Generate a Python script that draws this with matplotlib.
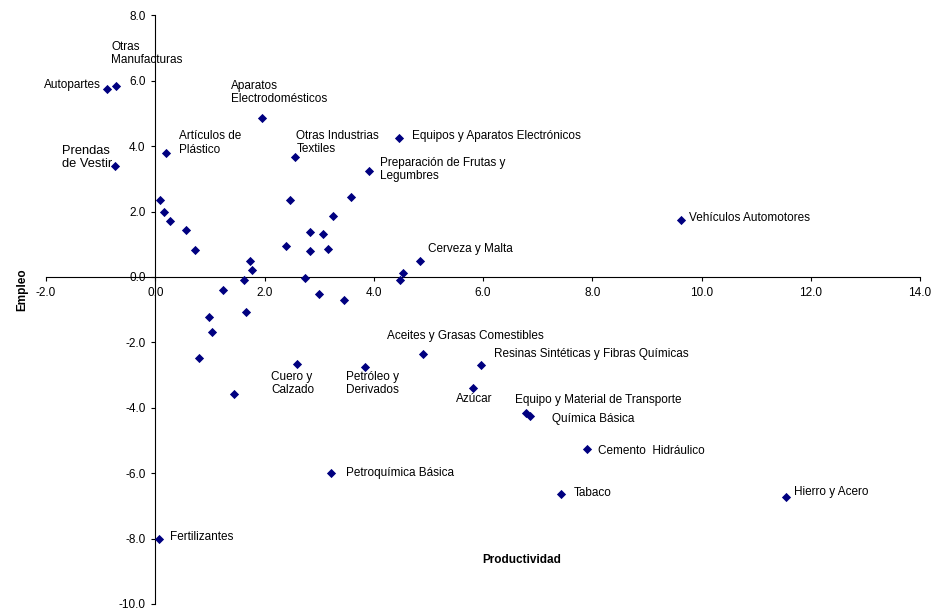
import matplotlib.pyplot as plt
from matplotlib.ticker import FormatStrFormatter

plt.rcParams['font.family'] = ['Liberation Sans', 'DejaVu Sans']

# labelled sectors
sectors = ["Autopartes", "Otras\nManufacturas", "Aparatos\nElectrodomésticos",
           "Artículos de\nPlástico", "Prendas\nde Vestir", "Otras Industrias\nTextiles",
           "Equipos y Aparatos Electrónicos", "Preparación de Frutas y\nLegumbres",
           "Vehículos Automotores", "Cerveza y Malta", "Aceites y Grasas Comestibles",
           "Resinas Sintéticas y Fibras Químicas", "Cuero y\nCalzado",
           "Petróleo y\nDerivados", "Azúcar", "Equipo y Material de Transporte",
           "Química Básica", "Cemento  Hidráulico", "Petroquímica Básica",
           "Tabaco", "Hierro y Acero", "Fertilizantes"]
prod_lab = [-0.875, -0.713, 1.957, 0.20, -0.73, 2.567, 4.46, 3.92, 9.63, 4.85, 4.90,
            5.97, 2.60, 3.84, 5.81, 6.79, 6.86, 7.90, 3.21, 7.43, 11.55, 0.06]
empl_lab = [5.75, 5.83, 4.85, 3.79, 3.38, 3.68, 4.25, 3.25, 1.74, 0.50, -2.37,
            -2.68, -2.65, -2.75, -3.41, -4.16, -4.25, -5.26, -6.00, -6.63, -6.73, -8.01]

# unlabelled sectors
prod_other = [0.09, 0.152, 0.268, 0.555, 0.73, 2.47, 2.835, 2.385, 2.84, 1.73, 1.78,
              2.74, 1.63, 1.24, 2.99, 1.665, 0.975, 1.037, 0.805, 1.44, 3.58, 3.25,
              3.07, 3.165, 4.54, 4.48, 3.457]
empl_other = [2.35, 1.98, 1.71, 1.44, 0.81, 2.36, 1.37, 0.96, 0.78, 0.50, 0.22,
              -0.04, -0.10, -0.39, -0.52, -1.06, -1.215, -1.68, -2.49, -3.58, 2.44, 1.86,
              1.32, 0.86, 0.12, -0.08, -0.70]

# label offsets in pixels (dx, dy, ha, va)
offsets = [(-7, 4, 'right', 'center'), (-5, 20, 'left', 'bottom'),
           (-31, 13, 'left', 'bottom'), (13, 10, 'left', 'center'),
           (-53, 9, 'left', 'center'), (1, 14, 'left', 'center'),
           (13, 2, 'left', 'center'), (11, 1, 'left', 'center'),
           (8, 2, 'left', 'center'), (8, 12, 'left', 'center'),
           (-36, 18, 'left', 'center'), (13, 11, 'left', 'center'),
           (-26, -20, 'left', 'center'), (-19, -17, 'left', 'center'),
           (-17, -11, 'left', 'center'), (-11, 13, 'left', 'center'),
           (22, -3, 'left', 'center'), (11, -2, 'left', 'center'),
           (15, 0, 'left', 'center'), (13, 1, 'left', 'center'),
           (8, 5, 'left', 'center'), (11, 2, 'left', 'center')]

fig = plt.figure(figsize=(9.32, 6.12), dpi=100)
ax = fig.add_axes([46/932, 1-604/612, (920-46)/932, (604-15.3)/612])

ax.scatter(prod_other, empl_other, marker='D', s=22, color='#000080', zorder=3, linewidths=0)
ax.scatter(prod_lab, empl_lab, marker='D', s=22, color='#000080', zorder=3, linewidths=0)

for name, x, y, (dx, dy, ha, va) in zip(sectors, prod_lab, empl_lab, offsets):
    fs = 9.3 if name.startswith("Prendas") else 8.5
    ax.annotate(name, (x, y), xytext=(dx, dy), textcoords='offset pixels',
                ha=ha, va=va, fontsize=fs, color='black', linespacing=1.12)

ax.set_xlim(-2, 14)
ax.set_ylim(-10, 8)
ax.set_xticks([-2, 0, 2, 4, 6, 8, 10, 12, 14])
ax.set_yticks([-10, -8, -6, -4, -2, 0, 2, 4, 6, 8])
ax.xaxis.set_major_formatter(FormatStrFormatter('%.1f'))
ax.yaxis.set_major_formatter(FormatStrFormatter('%.1f'))
ax.spines['left'].set_position(('data', 0))
ax.spines['bottom'].set_position(('data', 0))
ax.spines['right'].set_visible(False)
ax.spines['top'].set_visible(False)
ax.tick_params(axis='both', labelsize=8.5, length=3, width=0.8, direction='out', pad=4)
ax.patch.set_alpha(0)

fig.text(522/932, 1-560/612, "Productividad", ha='center', va='center',
         fontsize=8.5, fontweight='bold')
fig.text(22/932, 1-290/612, "Empleo", ha='center', va='center', rotation=90,
         fontsize=8.5, fontweight='bold')

fig.savefig("out.png", dpi=100)
